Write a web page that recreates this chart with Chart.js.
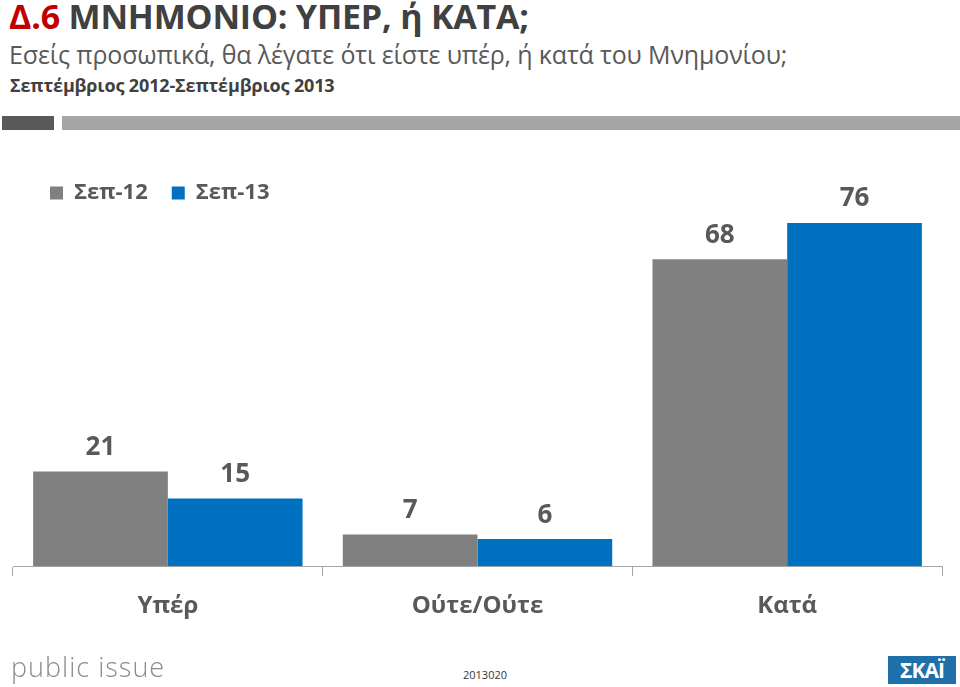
<!DOCTYPE html>
<html lang="el">
<head>
    <meta charset="UTF-8">
    <title>Μνημόνιο: υπέρ ή κατά</title>
    <script src="https://cdn.jsdelivr.net/npm/chart.js"></script>
    <style>
        body { margin: 0; width: 960px; height: 687px; position: relative; background: #fff; overflow: hidden;
               font-family: "Open Sans", "Noto Sans", sans-serif; }
        .abs { position: absolute; white-space: nowrap; }
        #title { left: 9px; top: -7px; font-size: 34px; font-weight: 700; color: #404040; letter-spacing: -0.2px; }
        #title span { color: #c00000; }
        #sub { left: 9px; top: 37px; font-size: 25px; color: #595959; letter-spacing: -0.15px; }
        #period { left: 10px; top: 73px; font-size: 18px; font-weight: 700; color: #404040; letter-spacing: -0.15px; }
        #bar1 { left: 2px; top: 116px; width: 52px; height: 14px; background: #595959; }
        #bar2 { left: 62px; top: 116px; width: 898px; height: 14px; background: #a6a6a6; }
        #chartBox { left: 0; top: 158px; width: 960px; height: 492px; }
        #brand { left: 11px; top: 648px; font-size: 27px; color: #8c8c8c; font-weight: 300; letter-spacing: 1px; }
        #code { left: 463px; top: 667px; font-size: 11px; color: #333; }
        #skai { left: 888px; top: 656px; width: 68px; height: 28px; background: #1f6fa8; color: #fff;
                font-size: 21px; font-weight: 700; text-align: center; line-height: 28px; letter-spacing: -1px; }
    </style>
</head>
<body>
<div class="abs" id="title"><span>Δ.6</span> ΜΝΗΜΟΝΙΟ: ΥΠΕΡ, ή ΚΑΤΑ;</div>
<div class="abs" id="sub">Εσείς προσωπικά, θα λέγατε ότι είστε υπέρ, ή κατά του Μνημονίου;</div>
<div class="abs" id="period">Σεπτέμβριος 2012-Σεπτέμβριος 2013</div>
<div class="abs" id="bar1"></div>
<div class="abs" id="bar2"></div>
<div class="abs" id="chartBox"><canvas id="chart" width="960" height="492"></canvas></div>
<div class="abs" id="brand">public issue</div>
<div class="abs" id="code">2013020</div>
<div class="abs" id="skai">ΣΚΑΪ</div>
<script>
    const categories = ['Υπέρ', 'Ούτε/Ούτε', 'Κατά'];
    const sep12 = [21, 7, 68];
    const sep13 = [15, 6, 76];
    const seriesNames = ['Σεπ-12', 'Σεπ-13'];

    const textColor = '#595959';
    const font = '"Open Sans", "Noto Sans", sans-serif';

    // value labels above each bar
    const valueLabels = {
        id: 'valueLabels',
        afterDatasetsDraw(chart) {
            const ctx = chart.ctx;
            ctx.save();
            ctx.font = 'bold 26px ' + font;
            ctx.fillStyle = textColor;
            ctx.textAlign = 'center';
            ctx.textBaseline = 'middle';
            chart.data.datasets.forEach((ds, i) => {
                chart.getDatasetMeta(i).data.forEach((bar, j) => {
                    ctx.fillText(ds.data[j], bar.x, bar.y - 24);
                });
            });
            ctx.restore();
        }
    };

    // push legend right, like the original
    const legendShift = {
        id: 'legendShift',
        afterLayout(chart) {
            chart.legend.left += 13;
            chart.legend.right += 13;
        }
    };

    new Chart(document.getElementById('chart'), {
        type: 'bar',
        data: {
            labels: categories,
            datasets: [
                { label: seriesNames[0], data: sep12, backgroundColor: '#808080' },
                { label: seriesNames[1], data: sep13, backgroundColor: '#0070c0' }
            ]
        },
        options: {
            responsive: false,
            animation: false,
            events: [],
            layout: { padding: { left: 13, right: 18, top: 0, bottom: 13 } },
            datasets: { bar: { categoryPercentage: 0.87, barPercentage: 1 } },
            plugins: {
                legend: {
                    position: 'top',
                    align: 'start',
                    labels: {
                        boxWidth: 13,
                        boxHeight: 13,
                        padding: 24,
                        color: textColor,
                        font: { family: font, size: 22, weight: 'bold' }
                    }
                },
                tooltip: { enabled: false }
            },
            scales: {
                x: {
                    grid: { drawOnChartArea: false, drawTicks: true, tickLength: 10, offset: true, color: '#a6a6a6' },
                    border: { display: true, color: '#a6a6a6' },
                    ticks: { color: textColor, padding: 16, font: { family: font, size: 24, weight: 'bold' } }
                },
                y: {
                    display: false,
                    min: 0,
                    max: 78
                }
            }
        },
        plugins: [valueLabels, legendShift]
    });
</script>
</body>
</html>
